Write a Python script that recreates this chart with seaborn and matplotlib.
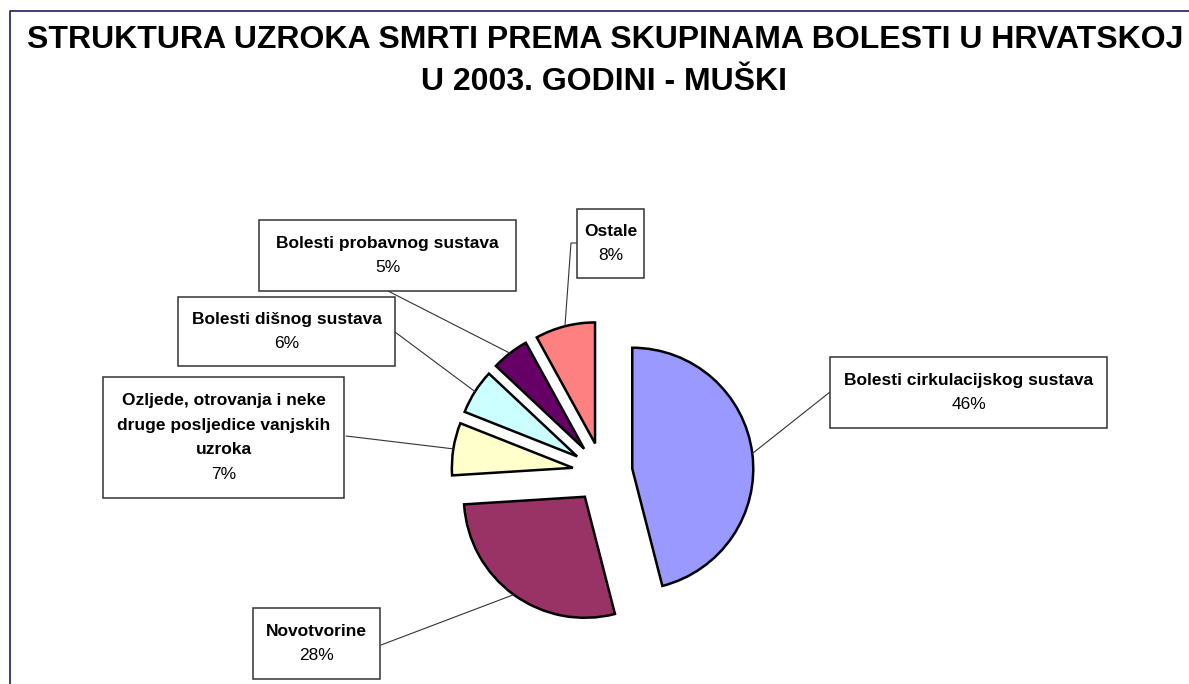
import numpy as np
import matplotlib
matplotlib.use("Agg")
import matplotlib.pyplot as plt
import seaborn as sns
from matplotlib.patches import Rectangle

# causes of death, men, Croatia 2003 (share in %)
categories = [
    "Bolesti cirkulacijskog sustava",
    "Novotvorine",
    "Ozljede, otrovanja i neke druge posljedice vanjskih uzroka",
    "Bolesti dišnog sustava",
    "Bolesti probavnog sustava",
    "Ostale",
]
shares = [46, 28, 7, 6, 5, 8]
box_lines = [
    ["Bolesti cirkulacijskog sustava"],
    ["Novotvorine"],
    ["Ozljede, otrovanja i neke", "druge posljedice vanjskih", "uzroka"],
    ["Bolesti dišnog sustava"],
    ["Bolesti probavnog sustava"],
    ["Ostale"],
]
colors = ["#9999FF", "#993366", "#FFFFCC", "#CCFFFF", "#660066", "#FF8080"]
title_lines = ["STRUKTURA UZROKA SMRTI PREMA SKUPINAMA BOLESTI U HRVATSKOJ",
               "U 2003. GODINI - MUŠKI"]

W, H = 1189, 684


def py(y):
    # pixel row (from top) -> data y
    return H - y


sns.set_theme(style="white")
plt.rcParams['font.family'] = ['Liberation Sans', 'DejaVu Sans']

fig = plt.figure(figsize=(W / 100, H / 100), dpi=100)
ax = fig.add_axes([0, 0, 1, 1])

wedges, _ = ax.pie(shares, colors=colors, startangle=90, counterclock=False,
                   explode=[30] * len(shares), radius=121,
                   center=(602.5, py(472.5)),
                   wedgeprops=dict(edgecolor="black", linewidth=1.8))
ax.set_xlim(0, W)
ax.set_ylim(0, H)
ax.set_aspect("equal")
ax.axis("off")

# label boxes (x0, y0, x1, y1 in pixels from top-left) and leader anchors
boxes = [(830, 357, 1107, 428), (253, 608, 380, 679), (103, 377, 344, 498),
         (178, 297, 395, 366), (259, 220, 516, 291), (577, 209, 644, 278)]
anchors = [[(830, 392)], [(381, 645)], [(346, 436)], [(395, 332)],
           [(388, 291)], [(577, 243), (571, 243)]]

for w, lines, share, (x0, y0, x1, y1), anc in zip(wedges, box_lines, shares, boxes, anchors):
    ang = np.deg2rad((w.theta1 + w.theta2) / 2)
    tip = (w.center[0] + w.r * np.cos(ang), w.center[1] + w.r * np.sin(ang))
    xs = [a[0] for a in anc] + [tip[0]]
    ys = [py(a[1]) for a in anc] + [tip[1]]
    ax.plot(xs, ys, color="#333333", lw=0.8, zorder=1)

    ax.add_patch(Rectangle((x0, py(y1)), x1 - x0, y1 - y0, facecolor="white",
                           edgecolor="#333333", lw=1.1, zorder=3))
    txt = lines + [f"{share}%"]
    cy = (y0 + y1) / 2
    n = len(txt)
    for i, t in enumerate(txt):
        yy = cy + (i - (n - 1) / 2) * 24.5
        ax.text((x0 + x1) / 2, py(yy), t, ha="center", va="center",
                fontsize=12.5, fontweight="bold" if i < n - 1 else "normal",
                color="black", zorder=4)

# frame of the chart area
ax.plot([10, 10, W], [0, py(11), py(11)], color="#1c1c5c", lw=1.2)

ax.text(605, py(48), title_lines[0], ha="center", va="baseline",
        fontsize=23, fontweight="bold", color="black")
ax.text(604, py(90), title_lines[1], ha="center", va="baseline",
        fontsize=23, fontweight="bold", color="black")

plt.savefig("out.png", dpi=100)
